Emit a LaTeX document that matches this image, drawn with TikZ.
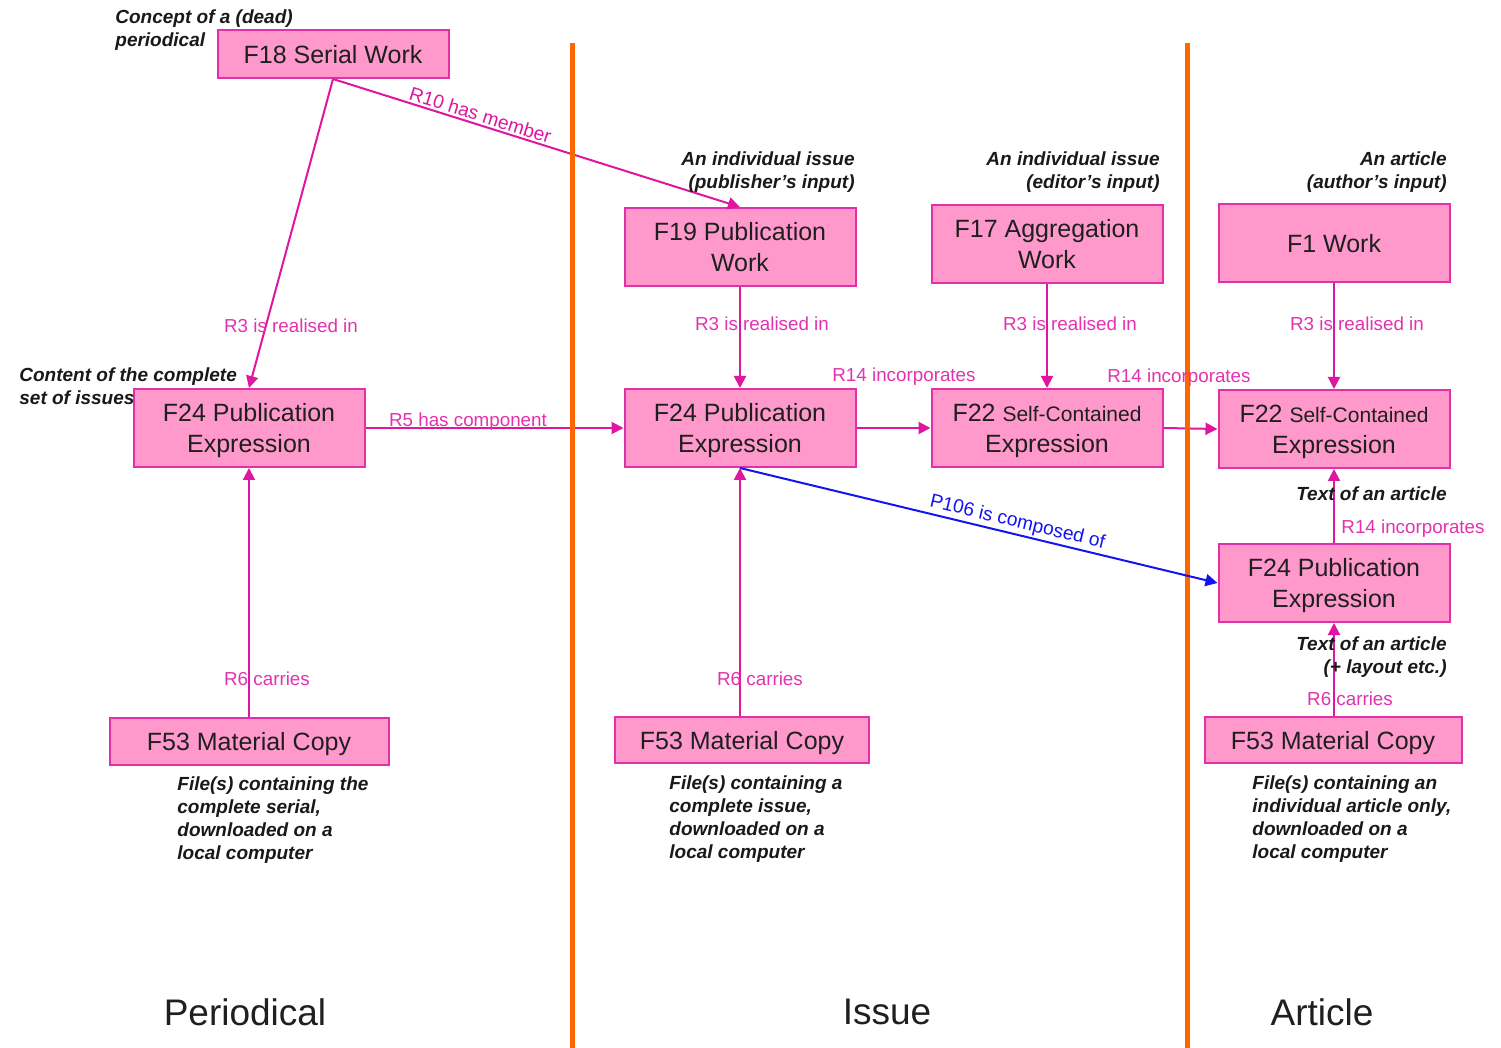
\documentclass[tikz,border=0pt]{standalone}
\usepackage{fontspec}
\setmainfont{Liberation Sans}
\usetikzlibrary{arrows.meta}
\definecolor{boxfill}{RGB}{255,153,204}
\definecolor{boxline}{RGB}{228,48,168}
\definecolor{edgecol}{RGB}{222,22,160}
\definecolor{labcol}{RGB}{228,50,175}
\definecolor{divider}{RGB}{255,102,0}
\definecolor{pblue}{RGB}{20,20,240}
\definecolor{annot}{RGB}{25,25,25}
\begin{document}
\begin{tikzpicture}[x=0.5pt,y=-0.5pt,
  box/.style={draw=boxline, fill=boxfill, line width=1pt, minimum width=115.5pt, minimum height=39pt,
    inner sep=0pt, align=center, text depth=0pt, font=\fontsize{12.5}{15.5}\selectfont, text=black!88},
  rel/.style={draw=edgecol, line width=1pt, -{Triangle[length=6pt,width=6pt]}},
  lab/.style={text=labcol, font=\fontsize{9.4}{11}\selectfont, inner sep=0pt, text depth=0pt},
  ann/.style={text=annot, font=\fontsize{9.5}{11.5}\selectfont\bfseries\itshape, inner sep=0pt},
  title/.style={text=black!88, font=\fontsize{18.5}{22}\selectfont, inner sep=0pt}]
\useasboundingbox[fill=white] (0,0) rectangle (1501,1048);

% nodes
\node[box, minimum height=24pt] (f18) at (333,54) {F18 Serial Work};
\node[box] (f19) at (740,247) {F19 Publication\\Work};
\node[box] (f17) at (1047,244) {F17 Aggregation\\Work};
\node[box] (f1) at (1334,243) {F1 Work};
\node[box] (f24a) at (249,428) {F24 Publication\\Expression};
\node[box] (f24b) at (740,428) {F24 Publication\\Expression};
\node[box] (f22a) at (1047,428) {F22 {\fontsize{10.5}{12}\selectfont Self-Contained}\\Expression};
\node[box] (f22b) at (1334,429) {F22 {\fontsize{10.5}{12}\selectfont Self-Contained}\\Expression};
\node[box] (f24c) at (1334,583) {F24 Publication\\Expression};
\node[box, minimum width=139.5pt, minimum height=23.5pt] (f53a) at (249,741) {F53 Material Copy};
\node[box, minimum width=127pt, minimum height=23pt] (f53b) at (742,740) {F53 Material Copy};
\node[box, minimum width=128.5pt, minimum height=23pt] (f53c) at (1333,740) {F53 Material Copy};

% magenta connectors
\draw[rel] (f18.south) -- (f24a.north);
\draw[rel] (f18.south) -- node[pos=0.355, sloped, above=1pt, text=edgecol, font=\fontsize{9.6}{11}\selectfont, inner sep=0pt] (lr10) {R10 has member} (f19.north);
\draw[rel] (f19.south) -- (f24b.north);
\draw[rel] (f17.south) -- (f22a.north);
\draw[rel] (f1.south) -- (f22b.north);
\draw[rel] (f24a.east) -- (f24b.west);
\draw[rel] (f24b.east) -- (f22a.west);
\draw[rel] (f22a.east) -- (f22b.west);
\draw[rel] (f53a.north) -- (f24a.south);
\draw[rel] (f24b.south |- f53b.north) -- (f24b.south);
\draw[rel] (f24c.north) -- (f22b.south);
\draw[rel] (f24c.south |- f53c.north) -- (f24c.south);

% dividers
\draw[divider, line width=2.5pt] (572,43) -- (572,1048);
\draw[divider, line width=2.5pt] (1187,43) -- (1187,1048);

% blue connector
\draw[draw=pblue, line width=1pt, -{Triangle[length=6pt,width=6pt]}] (f24b.south) -- node[pos=0.575, sloped, above=1pt, text=pblue, font=\fontsize{9.6}{11}\selectfont, inner sep=0pt] (lp106) {P106 is composed of} (f24c.west);

% edge labels
\node[lab] (lr3a) at (291,326) {R3 is realised in};
\node[lab] (lr3b) at (762,324) {R3 is realised in};
\node[lab] (lr3c) at (1070,324) {R3 is realised in};
\node[lab] (lr3d) at (1357,324) {R3 is realised in};
\node[lab] (lr5) at (468,420) {R5 has component};
\node[lab] (lr14a) at (904,375) {R14 incorporates};
\node[lab] (lr14b) at (1179,376) {R14 incorporates};
\node[lab] (lr14c) at (1413,527) {R14 incorporates};
\node[lab] (lr6a) at (267,679) {R6 carries};
\node[lab] (lr6b) at (760,679) {R6 carries};
\node[lab] (lr6c) at (1350,699) {R6 carries};

% annotations
\node[ann, anchor=west, align=left] (a1) at (115,30.5) {Concept of a (dead)\\periodical};
\node[ann, anchor=east, align=right] (a2) at (855,172.5) {An individual issue\\(publisher's input)};
\node[ann, anchor=east, align=right] (a3) at (1160,172.5) {An individual issue\\(editor's input)};
\node[ann, anchor=east, align=right] (a4) at (1447,172.5) {An article\\(author's input)};
\node[ann, anchor=west, align=left] (a5) at (19,386.5) {Content of the complete\\set of issues};
\node[ann, anchor=east, align=right] (a6) at (1447,494) {Text of an article};
\node[ann, anchor=east, align=right] (a7) at (1447,657.5) {Text of an article\\(+ layout etc.)};
\node[ann, anchor=west, align=left] (a8) at (177,820.5) {File(s) containing the\\complete serial,\\downloaded on a\\local computer};
\node[ann, anchor=west, align=left] (a9) at (669,819) {File(s) containing a\\complete issue,\\downloaded on a\\local computer};
\node[ann, anchor=west, align=left] (a10) at (1252,819) {File(s) containing an\\individual article only,\\downloaded on a\\local computer};

% column titles
\node[title] (t1) at (245,1012) {Periodical};
\node[title] (t2) at (887,1012) {Issue};
\node[title] (t3) at (1322,1012) {Article};
\end{tikzpicture}
\end{document}
